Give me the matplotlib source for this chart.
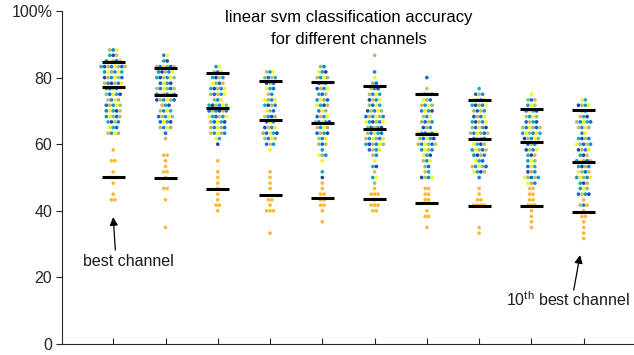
import matplotlib
matplotlib.use("Agg")
import matplotlib.pyplot as plt
from matplotlib.colors import LinearSegmentedColormap
import numpy as np


"""DATA (accuracy levels in %, point counts per level, read off the picture)"""
acc_levels = [88.3, 86.7, 85.0, 83.3, 81.7, 80.0, 78.3, 76.7, 75.0, 73.3,
              71.7, 70.0, 68.3, 66.7, 65.0, 63.3, 61.7, 60.0, 58.3, 56.7,
              55.0, 53.3, 51.7, 50.0, 48.3, 46.7, 45.0, 43.3, 41.7, 40.0,
              38.3, 36.7, 35.0, 33.3, 31.7]

# colored points (upper cloud) per channel
ch1_col = [3, 3, 5, 8, 6, 6, 6, 5, 5, 4, 5, 5, 5, 4, 3, 4, 0, 0, 0, 0, 0, 0, 0, 0, 0, 0, 0, 0, 0, 0, 0, 0, 0, 0, 0]
ch2_col = [0, 2, 2, 6, 5, 6, 4, 6, 6, 6, 3, 4, 5, 4, 4, 1, 1, 0, 0, 0, 0, 0, 0, 0, 0, 0, 0, 0, 0, 0, 0, 0, 0, 0, 0]
ch3_col = [0, 0, 0, 2, 3, 4, 4, 5, 5, 3, 6, 6, 6, 5, 5, 5, 2, 1, 0, 0, 0, 0, 0, 0, 0, 0, 0, 0, 0, 0, 0, 0, 0, 0, 0]
ch4_col = [0, 0, 0, 0, 3, 4, 3, 3, 2, 4, 4, 3, 4, 3, 4, 5, 4, 3, 1, 0, 0, 0, 0, 0, 0, 0, 0, 0, 0, 0, 0, 0, 0, 0, 0]
ch5_col = [0, 0, 0, 2, 3, 4, 3, 4, 3, 4, 4, 3, 4, 5, 4, 4, 3, 3, 1, 3, 1, 0, 1, 1, 0, 0, 0, 0, 0, 0, 0, 0, 0, 0, 0]
ch6_col = [0, 1, 0, 0, 1, 1, 2, 3, 4, 4, 4, 5, 6, 6, 5, 5, 6, 6, 4, 2, 1, 2, 1, 2, 1, 0, 0, 0, 0, 0, 0, 0, 0, 0, 0]
ch7_col = [0, 0, 0, 0, 0, 1, 0, 1, 4, 3, 4, 4, 3, 4, 3, 6, 5, 6, 4, 3, 3, 2, 2, 4, 0, 0, 0, 0, 0, 0, 0, 0, 0, 0, 0]
ch8_col = [0, 0, 0, 0, 0, 0, 0, 1, 3, 4, 5, 4, 4, 5, 5, 6, 4, 4, 5, 4, 3, 5, 4, 1, 0, 0, 0, 0, 0, 0, 0, 0, 0, 0, 0]
ch9_col = [0, 0, 0, 0, 0, 0, 0, 0, 1, 3, 3, 4, 4, 4, 6, 6, 5, 3, 4, 3, 3, 3, 3, 5, 3, 0, 0, 0, 0, 0, 0, 0, 0, 0, 0]
ch10_col = [0, 0, 0, 0, 0, 0, 0, 0, 0, 2, 4, 2, 3, 5, 4, 2, 4, 5, 4, 3, 5, 4, 4, 5, 3, 3, 4, 0, 2, 0, 0, 0, 0, 0, 0]

# orange points (lower cloud) per channel
ch1_org = [0, 0, 0, 0, 0, 0, 0, 0, 0, 0, 0, 0, 0, 0, 0, 0, 0, 0, 1, 0, 2, 0, 1, 2, 1, 0, 1, 2, 0, 0, 0, 0, 0, 0, 0]
ch2_org = [0, 0, 0, 0, 0, 0, 0, 0, 0, 0, 0, 0, 0, 0, 0, 0, 0, 0, 0, 2, 1, 1, 2, 1, 0, 2, 0, 1, 0, 0, 0, 0, 1, 0, 0]
ch3_org = [0, 0, 0, 0, 0, 0, 0, 0, 0, 0, 0, 0, 0, 0, 0, 0, 0, 0, 0, 0, 1, 0, 1, 1, 1, 1, 1, 1, 2, 1, 0, 0, 0, 0, 0]
ch4_org = [0, 0, 0, 0, 0, 0, 0, 0, 0, 0, 0, 0, 0, 0, 0, 0, 0, 0, 0, 0, 0, 0, 1, 1, 1, 1, 0, 2, 1, 3, 0, 0, 0, 1, 0]
ch5_org = [0, 0, 0, 0, 0, 0, 0, 0, 0, 0, 0, 0, 0, 0, 0, 0, 0, 0, 0, 0, 0, 0, 0, 0, 1, 1, 2, 2, 2, 1, 0, 1, 0, 0, 0]
ch6_org = [0, 0, 0, 0, 0, 0, 0, 0, 0, 0, 0, 0, 0, 0, 0, 0, 0, 0, 0, 0, 0, 0, 0, 0, 0, 1, 3, 1, 3, 2, 0, 0, 0, 0, 0]
ch7_org = [0, 0, 0, 0, 0, 0, 0, 0, 0, 0, 0, 0, 0, 0, 0, 0, 0, 0, 0, 0, 0, 0, 0, 0, 0, 2, 2, 2, 0, 1, 2, 0, 1, 0, 0]
ch8_org = [0, 0, 0, 0, 0, 0, 0, 0, 0, 0, 0, 0, 0, 0, 0, 0, 0, 0, 0, 0, 0, 0, 0, 0, 0, 1, 1, 2, 4, 0, 0, 0, 1, 1, 0]
ch9_org = [0, 0, 0, 0, 0, 0, 0, 0, 0, 0, 0, 0, 0, 0, 0, 0, 0, 0, 0, 0, 0, 0, 0, 0, 0, 2, 2, 2, 3, 1, 1, 1, 1, 0, 0]
ch10_org = [0, 0, 0, 0, 0, 0, 0, 0, 0, 0, 0, 0, 0, 0, 0, 0, 0, 0, 0, 0, 0, 0, 0, 0, 0, 0, 0, 1, 1, 1, 2, 1, 1, 1, 1]

# black bars per channel
bar_top = [84.6, 82.9, 81.4, 79.0, 78.8, 77.5, 75.0, 73.3, 70.6, 70.3]
bar_mid = [77.1, 74.9, 70.8, 67.3, 66.3, 64.5, 63.1, 61.6, 60.8, 54.8]
bar_low = [50.2, 49.9, 46.5, 44.7, 43.7, 43.5, 42.2, 41.5, 41.3, 39.5]

y_ticks = [0, 20, 40, 60, 80, 100]
y_ticklabels = ["0", "20", "40", "60", "80", "100%"]
title_txt = "linear svm classification accuracy\nfor different channels"

colored = [ch1_col, ch2_col, ch3_col, ch4_col, ch5_col, ch6_col, ch7_col, ch8_col, ch9_col, ch10_col]
oranges = [ch1_org, ch2_org, ch3_org, ch4_org, ch5_org, ch6_org, ch7_org, ch8_org, ch9_org, ch10_org]


"""COLORS AND STYLE"""
plt.rcParams['font.family'] = ['Liberation Sans', 'DejaVu Sans']
plt.rcParams['mathtext.fontset'] = 'custom'
plt.rcParams['mathtext.rm'] = 'Liberation Sans'
_axcol = "#262626"
_orange = "#FBB933"
parula = LinearSegmentedColormap.from_list("parula", [
    (0.208, 0.166, 0.529), (0.012, 0.388, 0.882), (0.079, 0.520, 0.831),
    (0.023, 0.653, 0.777), (0.218, 0.725, 0.619), (0.571, 0.749, 0.449),
    (0.851, 0.730, 0.336), (0.988, 0.807, 0.179), (0.976, 0.983, 0.054)])
palette = [0.06, 0.15, 0.25, 0.32, 0.42, 0.62, 0.68, 0.74, 0.97, 0.99]


"""FIGURE"""
fig = plt.figure(figsize=(6.34, 3.55), dpi=100)
ax = fig.add_axes([62 / 634, 11 / 355, 575 / 634, 333 / 355])

dx = 0.066  # spacing between neighbouring dots in one row
k = 0
for i in range(10):
    xc = i + 1
    for lev, nc, no in zip(acc_levels, colored[i], oranges[i]):
        n = nc + no
        if n == 0:
            continue
        offs = (np.arange(n) - (n - 1) / 2) * dx
        cols = []
        for j in range(nc):
            k += 1
            cols.append(parula(palette[int(((k * 0.6180339) % 1) * len(palette))]))
        cols += [_orange] * no
        ax.scatter(xc + offs, [lev] * n, s=7, c=cols, edgecolors="none", zorder=2)
    for yv in (bar_top[i], bar_mid[i], bar_low[i]):
        ax.hlines(yv, xc - 0.22, xc + 0.22, color="black", linewidth=2.2, zorder=3)

ax.set_xlim(0.02, 11.02)
ax.set_ylim(0, 100)
ax.set_xticks(range(1, 11))
ax.set_xticklabels([])
ax.set_yticks(y_ticks)
ax.set_yticklabels(y_ticklabels, fontsize=11.5, color=_axcol)
ax.tick_params(axis="x", direction="in", length=4, color=_axcol, width=0.8)
ax.tick_params(axis="y", direction="out", length=4, color=_axcol, width=0.8, pad=3)
for s in ("top", "right"):
    ax.spines[s].set_visible(False)
for s in ("left", "bottom"):
    ax.spines[s].set_color(_axcol)
    ax.spines[s].set_linewidth(0.8)

fig.text(349 / 634, 1 - 10 / 355, title_txt, ha="center", va="top", fontsize=12,
         color="black", linespacing=1.6)

"""ANNOTATIONS"""
_arr = dict(arrowstyle="-|>", color="black", lw=0.9, mutation_scale=12, shrinkA=0, shrinkB=0)
ax.annotate("", xy=(1.0, 38.1), xytext=(1.04, 28.2), arrowprops=_arr)
ax.text(1.29, 24.9, "best channel", ha="center", va="center", fontsize=11.5, color="#1a1a1a")
ax.annotate("", xy=(9.93, 26.7), xytext=(9.81, 16.2), arrowprops=_arr)
ax.text(9.70, 13.2, r"10$^{\mathrm{th}}$ best channel", ha="center", va="center",
        fontsize=11.5, color="#1a1a1a")

fig.savefig("out.png", dpi=100)
